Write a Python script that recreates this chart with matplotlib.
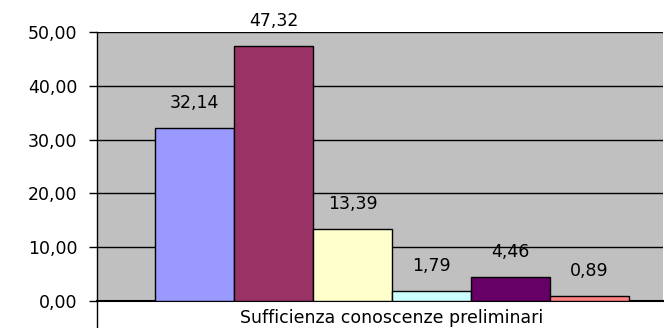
import matplotlib.pyplot as plt
from matplotlib.lines import Line2D

# Values
category = 'Sufficienza conoscenze preliminari'
values = [32.14, 47.32, 13.39, 1.79, 4.46, 0.89]
colors = ['#9999FF', '#993366', '#FFFFCC', '#CCFFFF', '#660066', '#FF8080']
yticks = [0, 10, 20, 30, 40, 50]

plt.rcParams['font.family'] = ['DejaVu Sans']

fig = plt.figure(figsize=(6.64, 3.28), dpi=100)
ax = fig.add_axes([97 / 664, 1 - 301 / 328, 566 / 664, 269 / 328])
ax.set_facecolor('#C0C0C0')

x = list(range(len(values)))
bars = ax.bar(x, values, width=1.0, color=colors, edgecolor='black', linewidth=1.0, zorder=3)

for xi, v in zip(x, values):
    ax.annotate(f'{v:.2f}'.replace('.', ','), (xi, v), xytext=(0, 18),
                textcoords='offset points', ha='center', va='center', fontsize=12.5)

ax.set_ylim(0, 50)
ax.set_xlim(-1.234, 5.93)
ax.set_yticks(yticks)
ax.set_yticklabels([f'{t:.2f}'.replace('.', ',') for t in yticks], fontsize=12.5)
ax.yaxis.grid(True, color='black', linewidth=1.0, zorder=0)
ax.set_axisbelow(True)
ax.tick_params(axis='y', length=6, width=1, direction='out', pad=8)
ax.set_xticks([])

for side in ['top', 'right']:
    ax.spines[side].set_visible(False)
ax.spines['left'].set_linewidth(1.0)
ax.spines['bottom'].set_linewidth(1.5)

# category label and the axis tick running below the plot
ax.text(2.5, -0.065, category, transform=ax.get_xaxis_transform(),
        ha='center', va='center', fontsize=12.5)
fig.add_artist(Line2D([97 / 664, 97 / 664], [0, 1 - 301 / 328], color='black', linewidth=1.0))

fig.savefig('out.png', dpi=100)
